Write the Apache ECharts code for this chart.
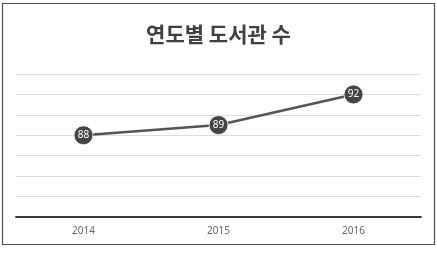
<!DOCTYPE html>
<html><head><meta charset="utf-8">
<script src="https://cdn.jsdelivr.net/npm/echarts@6/dist/echarts.min.js"></script>
<style>html,body{margin:0;padding:0;background:#fff;}#c{width:437px;height:260px;}</style>
</head><body><div id="c"></div>
<script>
const titleText = '연도별 도서관 수';
const categories = ['2014', '2015', '2016'];
const values = [88, 89, 92];
const yMin = 80, yMax = 94, yInterval = 2;

const chart = echarts.init(document.getElementById('c'), null, {renderer: 'canvas'});
chart.setOption({
  animation: false,
  backgroundColor: '#fff',
  title: {
    text: titleText, left: 'center', top: 19,
    textStyle: {fontFamily: 'Noto Sans CJK KR', fontSize: 21, fontWeight: 'bold', color: '#404040'}
  },
  graphic: [{
    type: 'rect', shape: {x: 2.5, y: 3.5, width: 432, height: 241},
    style: {fill: 'none', stroke: '#505050', lineWidth: 1.2}, silent: true, z: -1
  }],
  grid: {left: 16, right: 16, top: 74, bottom: 43, containLabel: false},
  xAxis: {
    type: 'category', data: categories, boundaryGap: true,
    axisLine: {lineStyle: {color: '#3a3a3a', width: 1.8}},
    axisTick: {show: false},
    axisLabel: {color: '#666', fontSize: 10, margin: 9, fontFamily: 'Noto Sans'}
  },
  yAxis: {
    type: 'value', min: yMin, max: yMax, interval: yInterval,
    axisLine: {show: false}, axisTick: {show: false}, axisLabel: {show: false},
    splitLine: {lineStyle: {color: '#dcdcdc', width: 1}}
  },
  series: [{
    type: 'line', data: values,
    symbol: 'circle', symbolSize: 19,
    lineStyle: {color: '#555', width: 2.5},
    itemStyle: {color: '#454545', borderColor: '#fff', borderWidth: 0.8},
    label: {show: true, position: 'inside', color: '#fff', fontSize: 10, fontFamily: 'Noto Sans'}
  }]
});
</script></body></html>
